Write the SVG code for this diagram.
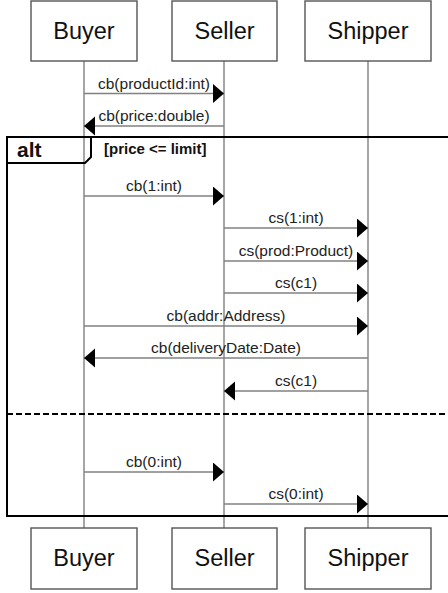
<svg xmlns="http://www.w3.org/2000/svg" width="448" height="593" viewBox="0 0 448 593">
<style>
.box{fill:#fff;stroke:#555;stroke-width:1.4}
.name{font-family:"Liberation Sans",Arial,sans-serif;font-size:23.5px;fill:#111;text-anchor:middle}
.life{stroke:#888;stroke-width:1.5}
.msg{stroke:#808080;stroke-width:1.5;fill:none;marker-end:url(#ah)}
.lbl{font-family:"Liberation Sans",Arial,sans-serif;font-size:15.5px;fill:#222;text-anchor:middle}
.frame{fill:none;stroke:#000;stroke-width:2}
.bold{font-family:"Liberation Sans",Arial,sans-serif;font-weight:bold;fill:#111}
</style>
<defs>
<marker id="ah" markerUnits="userSpaceOnUse" markerWidth="12" markerHeight="20" refX="11" refY="9.5" orient="auto">
<path d="M0,0 L11,9.5 L0,19 z" fill="#000"/>
</marker>
</defs>
<rect width="448" height="593" fill="#fff"/>
<g id="lifelines">
<line class="life" x1="84" y1="61" x2="84" y2="528"/>
<line class="life" x1="224" y1="61" x2="224" y2="528"/>
<line class="life" x1="368" y1="61" x2="368" y2="528"/>
</g>
<g id="alt-frame">
<rect class="frame" x="7" y="137" width="460" height="379"/>
<path class="frame" d="M7,163 L85,163 L91,157 L91,137"/>
<text class="bold" x="17" y="157" font-size="21">alt</text>
<text class="bold" x="104" y="154" font-size="15">[price &lt;= limit]</text>
<line x1="7" y1="414" x2="448" y2="414" stroke="#000" stroke-width="2" stroke-dasharray="6 3"/>
</g>
<g id="connectors">
<line class="msg" x1="84" y1="93.5" x2="224" y2="93.5"/>
<text class="lbl" x="154" y="89">cb(productId:int)</text>
<line class="msg" x1="224" y1="126" x2="84" y2="126"/>
<text class="lbl" x="154" y="121">cb(price:double)</text>
<line class="msg" x1="84" y1="196" x2="224" y2="196"/>
<text class="lbl" x="154" y="191">cb(1:int)</text>
<line class="msg" x1="224" y1="228" x2="368" y2="228"/>
<text class="lbl" x="296" y="223">cs(1:int)</text>
<line class="msg" x1="224" y1="261" x2="368" y2="261"/>
<text class="lbl" x="296" y="256">cs(prod:Product)</text>
<line class="msg" x1="224" y1="293" x2="368" y2="293"/>
<text class="lbl" x="296" y="288">cs(c1)</text>
<line class="msg" x1="84" y1="326" x2="368" y2="326"/>
<text class="lbl" x="226" y="321">cb(addr:Address)</text>
<line class="msg" x1="368" y1="358" x2="84" y2="358"/>
<text class="lbl" x="226" y="353">cb(deliveryDate:Date)</text>
<line class="msg" x1="368" y1="391" x2="224" y2="391"/>
<text class="lbl" x="296" y="386">cs(c1)</text>
<line class="msg" x1="84" y1="472" x2="224" y2="472"/>
<text class="lbl" x="154" y="467">cb(0:int)</text>
<line class="msg" x1="224" y1="504" x2="368" y2="504"/>
<text class="lbl" x="296" y="499">cs(0:int)</text>
</g>
<g id="buyer-top"><rect class="box" x="31" y="1" width="106" height="60"/><text class="name" x="84" y="39">Buyer</text></g>
<g id="seller-top"><rect class="box" x="172" y="1" width="105" height="60"/><text class="name" x="224.5" y="39">Seller</text></g>
<g id="shipper-top"><rect class="box" x="305" y="1" width="126" height="60"/><text class="name" x="368" y="39">Shipper</text></g>
<g id="buyer-bottom"><rect class="box" x="31" y="528" width="106" height="61"/><text class="name" x="84" y="566">Buyer</text></g>
<g id="seller-bottom"><rect class="box" x="172" y="528" width="105" height="61"/><text class="name" x="224.5" y="566">Seller</text></g>
<g id="shipper-bottom"><rect class="box" x="305" y="528" width="126" height="61"/><text class="name" x="368" y="566">Shipper</text></g>
</svg>
